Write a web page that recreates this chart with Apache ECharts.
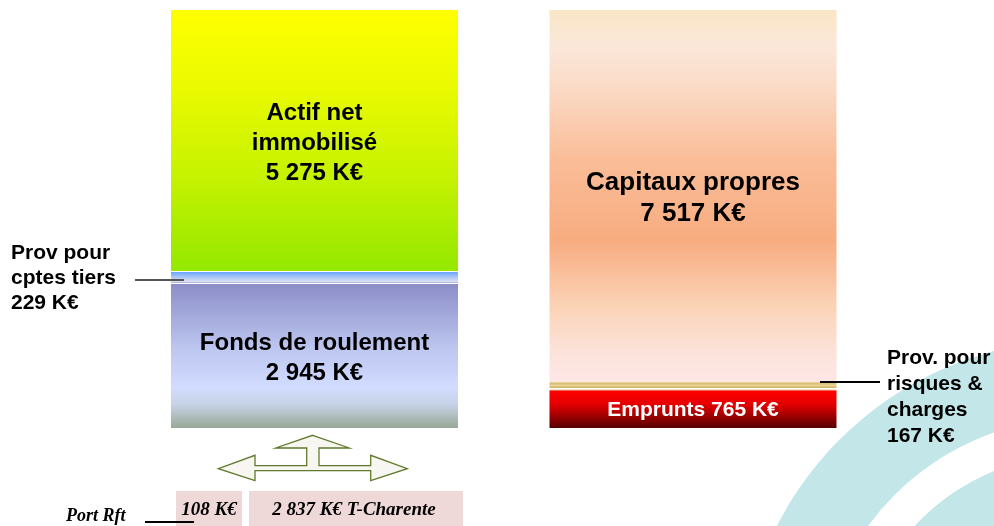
<!DOCTYPE html>
<html>
<head>
<meta charset="utf-8">
<script src="https://cdn.jsdelivr.net/npm/echarts@6/dist/echarts.min.js"></script>
<style>
  html, body { margin: 0; padding: 0; background: #fff; }
  #main { width: 994px; height: 526px; }
</style>
</head>
<body>
<div id="main"></div>
<script>
// données du bilan (K€)
var categories = ['Actif', 'Passif'];
var basValues = [2945, 765];       // Fonds de roulement / Emprunts
var milieuValues = [229, 167];     // Prov pour cptes tiers / Prov. pour risques & charges
var hautValues = [5275, 7517];     // Actif net immobilisé / Capitaux propres
var basLabels = ['Fonds de roulement\n2 945 K€', 'Emprunts 765 K€'];
var hautLabels = ['Actif net\nimmobilisé\n5 275 K€', 'Capitaux propres\n7 517 K€'];
var provTiersLabel = 'Prov pour\ncptes tiers\n229 K€';
var provRisquesLabel = 'Prov. pour\nrisques &\ncharges\n167 K€';
var repartition = ['108 K€', '2 837 K€ T-Charente'];
var total = 8449;

var myChart = echarts.init(document.getElementById('main'));

function grad(stops) {
    return new echarts.graphic.LinearGradient(0, 0, 0, 1, stops.map(function (s) {
        return { offset: s[0], color: s[1] };
    }));
}

var font = 'Liberation Sans, Arial, sans-serif';
var serif = 'Liberation Serif, Times New Roman, serif';

var option = {
    animation: false,
    grid: { left: 125.25, right: 111.75, top: 10, bottom: 98 },
    xAxis: { type: 'category', data: categories, show: false },
    yAxis: { type: 'value', min: 0, max: total, show: false },
    series: [
        {
            name: 'bas', type: 'bar', stack: 'bilan', barWidth: 287,
            data: [
                {
                    value: basValues[0],
                    itemStyle: { color: grad([[0, '#8b8cc7'], [0.45, '#bcc6ef'], [0.72, '#d2dcff'], [0.84, '#c6d2e6'], [1, '#98a896']]) },
                    label: { formatter: basLabels[0], color: '#000', fontSize: 24, lineHeight: 30, offset: [0, 3] }
                },
                {
                    value: basValues[1],
                    itemStyle: { color: grad([[0, '#ff0000'], [0.35, '#e80000'], [1, '#580000']]) },
                    label: { formatter: basLabels[1], color: '#fff', fontSize: 21, offset: [0, 1] }
                }
            ],
            label: { show: true, position: 'inside', fontFamily: font, fontWeight: 'bold' }
        },
        {
            name: 'milieu', type: 'bar', stack: 'bilan', barWidth: 287,
            data: [
                {
                    value: milieuValues[0],
                    itemStyle: { color: grad([[0, '#5c9dff'], [0.5, '#a4c4f8'], [1, '#e2e2f2']]) }
                },
                {
                    value: milieuValues[1],
                    itemStyle: { color: grad([[0, '#f0dea0'], [0.2, '#d9c07a'], [0.45, '#ead690'], [0.7, '#c9b06c'], [1, '#e8d490']]) }
                }
            ]
        },
        {
            name: 'haut', type: 'bar', stack: 'bilan', barWidth: 287,
            data: [
                {
                    value: hautValues[0],
                    itemStyle: { color: grad([[0, '#ffff00'], [0.3, '#eafa00'], [0.65, '#c4f200'], [1, '#94e800']]) },
                    label: { formatter: hautLabels[0], fontSize: 24, lineHeight: 30, offset: [0, 3] }
                },
                {
                    value: hautValues[1],
                    itemStyle: { color: grad([[0, '#f9e6c6'], [0.1, '#fbe7da'], [0.2, '#fbdcc8'], [0.4, '#fabd98'], [0.62, '#f8ac80'], [0.8, '#fbd4b8'], [0.93, '#fce4dc'], [1, '#fde6e6']]) },
                    label: { formatter: hautLabels[1], fontSize: 26, lineHeight: 31, offset: [0, 2] }
                }
            ],
            label: { show: true, position: 'inside', color: '#000', fontFamily: font, fontWeight: 'bold' }
        }
    ],
    graphic: [
        // anneaux décoratifs
        { type: 'ring', z: -1, shape: { cx: 1080, cy: 680, r: 340, r0: 262 }, style: { fill: '#c3e6e8' } },
        { type: 'ring', z: -1, shape: { cx: 1080, cy: 680, r: 226, r0: 150 }, style: { fill: '#c3e6e8' } },
        // séparations blanches
        { type: 'rect', shape: { x: 171, y: 271, width: 287, height: 1 }, style: { fill: '#fff' }, z: 10 },
        { type: 'rect', shape: { x: 171, y: 283, width: 287, height: 1 }, style: { fill: '#fff' }, z: 10 },
        { type: 'rect', shape: { x: 549, y: 388, width: 288, height: 1.5 }, style: { fill: '#fff' }, z: 10 },
        // étiquettes extérieures
        { type: 'text', left: 11, top: 241, style: { text: provTiersLabel, font: 'bold 21px ' + font, lineHeight: 25, fill: '#000' } },
        { type: 'line', shape: { x1: 135, y1: 280, x2: 184, y2: 280 }, style: { stroke: '#555', lineWidth: 2 }, z: 10 },
        { type: 'text', left: 887, top: 345, style: { text: provRisquesLabel, font: 'bold 21px ' + font, lineHeight: 26, fill: '#000' } },
        { type: 'line', shape: { x1: 820, y1: 382, x2: 880, y2: 382 }, style: { stroke: '#000', lineWidth: 2 }, z: 10 },
        // flèche
        {
            type: 'polygon',
            shape: {
                points: [[312.7, 435.3], [349.3, 448], [319, 448], [319, 465.7], [370.7, 465.7], [370.7, 455.3],
                    [407.3, 468.7], [370.7, 480.7], [370.7, 470.7], [255, 470.7], [255, 480.7], [218.3, 468.7],
                    [255, 455.3], [255, 465.7], [306.7, 465.7], [306.7, 448], [275.7, 448]]
            },
            style: { fill: '#f7f6f0', stroke: '#5f7a2c', lineWidth: 1.3 }
        },
        // cases du bas
        { type: 'rect', shape: { x: 176, y: 491, width: 66, height: 40 }, style: { fill: '#efd8d8' } },
        { type: 'rect', shape: { x: 249, y: 491, width: 214, height: 40 }, style: { fill: '#efd8d8' } },
        { type: 'text', x: 209, y: 510, style: { text: repartition[0], font: 'italic bold 19px ' + serif, fill: '#000', align: 'center', verticalAlign: 'middle' } },
        { type: 'text', x: 354, y: 510, style: { text: repartition[1], font: 'italic bold 19px ' + serif, fill: '#000', align: 'center', verticalAlign: 'middle' } },
        { type: 'text', x: 66, y: 516, style: { text: 'Port Rft', font: 'italic bold 18px ' + serif, fill: '#000', verticalAlign: 'middle' } },
        { type: 'line', shape: { x1: 145, y1: 522, x2: 194, y2: 522 }, style: { stroke: '#000', lineWidth: 2 }, z: 10 }
    ]
};
myChart.setOption(option);
</script>
</body>
</html>
